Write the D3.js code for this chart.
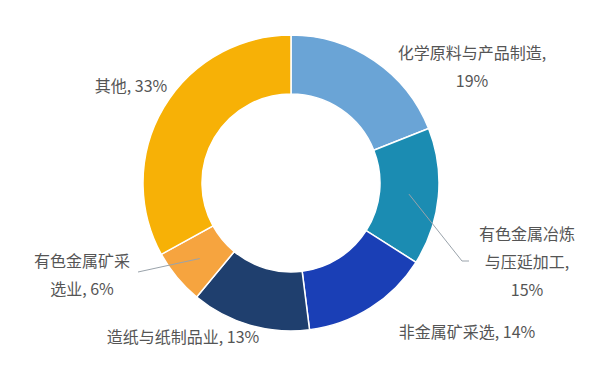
<!DOCTYPE html>
<html>
<head>
<meta charset="utf-8">
<script src="https://cdn.jsdelivr.net/npm/d3@7"></script>
<style>
  body { margin: 0; background: #fff; }
  text { font-family: "Noto Sans CJK SC", "Noto Sans", sans-serif; fill: #555; font-size: 16px; }
</style>
</head>
<body>
<svg id="donut"></svg>
<script>
// 行业占比
const categories = ["化学原料与产品制造", "有色金属冶炼与压延加工", "非金属矿采选", "造纸与纸制品业", "有色金属矿采选业", "其他"];
const shares = [19, 15, 14, 13, 6, 33];
const colors = ["#6aa4d6", "#1b8cb2", "#1a3fb6", "#1f3f6e", "#f6a43f", "#f7b106"];

// label lines (text split as in the picture)
const labelLines = [
  ["化学原料与产品制造,", "19%"],
  ["有色金属冶炼", "与压延加工,", "15%"],
  ["非金属矿采选, 14%"],
  ["造纸与纸制品业, 13%"],
  ["有色金属矿采", "选业, 6%"],
  ["其他, 33%"]
];
const labelPos = [[472, 59], [527, 240], [467, 338], [183, 343], [82, 267], [131, 92]];

const width = 600, height = 367;
const cx = 291, cy = 183;
const outerR = 148, innerR = 89;

const svg = d3.select("#donut")
  .attr("width", width)
  .attr("height", height);

const g = svg.append("g")
  .attr("transform", "translate(" + cx + "," + cy + ")");

const pie = d3.pie().sort(null).value(d => d);
const arc = d3.arc().innerRadius(innerR).outerRadius(outerR);

const arcs = pie(shares);

g.selectAll("path.slice")
  .data(arcs)
  .enter()
  .append("path")
  .attr("class", "slice")
  .attr("d", arc)
  .attr("fill", (d, i) => colors[i])
  .attr("stroke", "#fff")
  .attr("stroke-width", 1.5);

// leader lines for the two labels that sit away from their slice
const midArc = d3.arc().innerRadius((innerR + outerR) / 2).outerRadius((innerR + outerR) / 2);
const leaders = [
  { i: 1, pts: [[462, 261], [469, 261]] },
  { i: 4, pts: [[138, 272]] }
];
leaders.forEach(l => {
  const c = midArc.centroid(arcs[l.i]);
  const pts = [[c[0] + cx, c[1] + cy]].concat(l.pts);
  svg.append("path")
    .attr("d", d3.line()(pts))
    .attr("fill", "none")
    .attr("stroke", "#9aa3ab")
    .attr("stroke-width", 1);
});

// labels
labelLines.forEach((lines, i) => {
  const t = svg.append("text")
    .attr("x", labelPos[i][0])
    .attr("y", labelPos[i][1])
    .attr("text-anchor", "middle");
  lines.forEach((s, k) => {
    t.append("tspan")
      .attr("x", labelPos[i][0])
      .attr("dy", k === 0 ? 0 : 28)
      .text(s);
  });
});
</script>
</body>
</html>
